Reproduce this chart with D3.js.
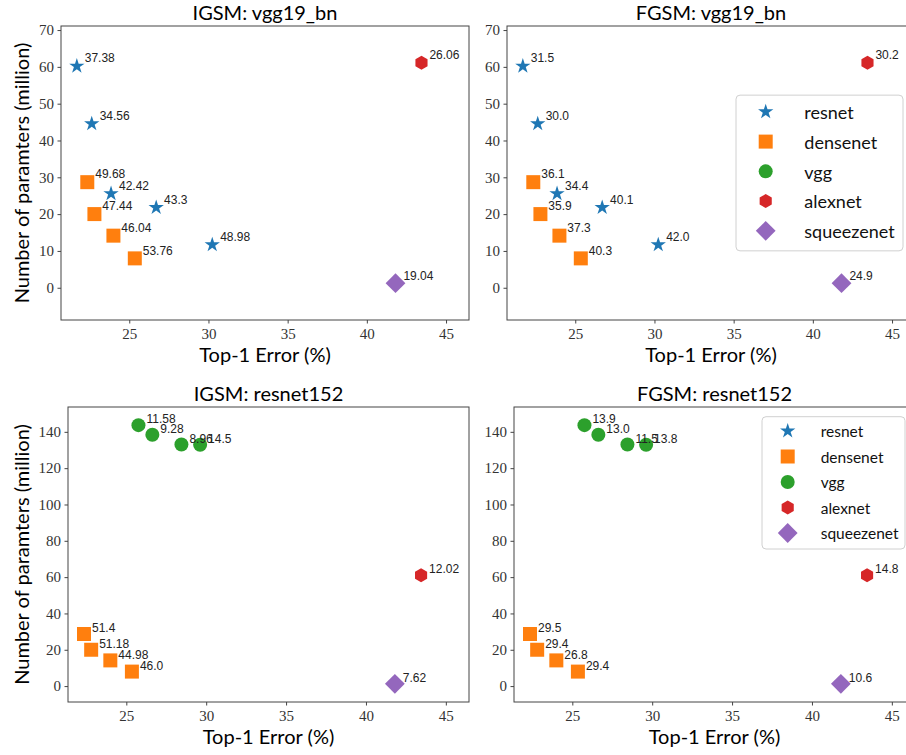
<!DOCTYPE html>
<html>
<head>
<meta charset="utf-8">
<script src="https://cdn.jsdelivr.net/npm/d3@7/dist/d3.min.js"></script>
<style>
  body { margin: 0; background: #fff; }
  svg { display: block; }
</style>
</head>
<body>
<div id="chart"></div>
<script>
// models, in the order the points are drawn
var models = ["resnet18", "resnet34", "resnet50", "resnet101", "resnet152",
    "densenet121", "densenet169", "densenet201", "densenet161",
    "vgg11_bn", "vgg13_bn", "vgg16_bn", "vgg19_bn",
    "alexnet", "squeezenet1_1"];
var family = ["resnet", "resnet", "resnet", "resnet", "resnet",
    "densenet", "densenet", "densenet", "densenet",
    "vgg", "vgg", "vgg", "vgg",
    "alexnet", "squeezenet"];
var top1Error = [30.24, 26.70, 23.85, 22.63, 21.69,
    25.35, 24.00, 22.80, 22.35,
    29.62, 28.45, 26.63, 25.76,
    43.45, 41.81];
var paramsM = [11.69, 21.80, 25.56, 44.55, 60.19,
    7.98, 14.15, 20.01, 28.68,
    132.87, 133.05, 138.37, 143.68,
    61.10, 1.24];

// point labels per panel (null = model not shown)
var igsmVgg19 = ["48.98", "43.3", "42.42", "34.56", "37.38",
    "53.76", "46.04", "47.44", "49.68",
    null, null, null, null, "26.06", "19.04"];
var fgsmVgg19 = ["42.0", "40.1", "34.4", "30.0", "31.5",
    "40.3", "37.3", "35.9", "36.1",
    null, null, null, null, "30.2", "24.9"];
var igsmRes152 = [null, null, null, null, null,
    "46.0", "44.98", "51.18", "51.4",
    "14.5", "8.96", "9.28", "11.58", "12.02", "7.62"];
var fgsmRes152 = [null, null, null, null, null,
    "29.4", "26.8", "29.4", "29.5",
    "13.8", "11.5", "13.0", "13.9", "14.8", "10.6"];

var families = ["resnet", "densenet", "vgg", "alexnet", "squeezenet"];
var xTicks = [25, 30, 35, 40, 45];
var yTicksTop = [0, 10, 20, 30, 40, 50, 60, 70];
var yTicksBottom = [0, 20, 40, 60, 80, 100, 120, 140];

var colors = {resnet: "#1f77b4", densenet: "#ff7f0e", vgg: "#2ca02c", alexnet: "#d62728", squeezenet: "#9467bd"};
var shapes = {resnet: "star", densenet: "square", vgg: "circle", alexnet: "hexagon", squeezenet: "diamond"};

var W = 906, H = 755;
var colStep = 446;
var rows = [
    {left: 61, top: 26, width: 408, height: 294, yTicks: yTicksTop},
    {left: 68, top: 407, width: 401, height: 295, yTicks: yTicksBottom}
];
var panels = [
    {title: "IGSM: vgg19_bn", labels: igsmVgg19, row: 0, col: 0, legend: null},
    {title: "FGSM: vgg19_bn", labels: fgsmVgg19, row: 0, col: 1, legend: "center"},
    {title: "IGSM: resnet152", labels: igsmRes152, row: 1, col: 0, legend: null},
    {title: "FGSM: resnet152", labels: fgsmRes152, row: 1, col: 1, legend: "upper"}
];

var sansFont = "Lato, 'Open Sans', sans-serif";
var serifFont = "'Liberation Serif', 'DejaVu Serif', serif";
var labelFont = "'Liberation Sans', Arial, sans-serif";
var markerSize = 14;

var svg = d3.select("#chart").append("svg")
    .attr("width", W)
    .attr("height", H);
svg.append("rect").attr("width", W).attr("height", H).attr("fill", "#fff");

function markerPath(type, s) {
    var r = s / 2;
    if (type === "star") { r = r * 1.15; return d3.symbol(d3.symbolStar, r * r / 0.8908130915292852)(); }
    if (type === "square" || type === "diamond") return d3.symbol(d3.symbolSquare, s * s)();
    if (type === "circle") return d3.symbol(d3.symbolCircle, Math.PI * r * r)();
    // hexagon, vertex on top
    var p = d3.path();
    for (var k = 0; k < 6; k++) {
        var a = -Math.PI / 2 + k * Math.PI / 3;
        if (k === 0) p.moveTo(r * Math.cos(a), r * Math.sin(a));
        else p.lineTo(r * Math.cos(a), r * Math.sin(a));
    }
    p.closePath();
    return p.toString();
}

function drawMarker(g, fam, cx, cy, s) {
    g.append("path")
        .attr("d", markerPath(shapes[fam], s))
        .attr("transform", "translate(" + cx + "," + cy + ")" + (shapes[fam] === "diamond" ? " rotate(45)" : ""))
        .attr("fill", colors[fam]);
}

panels.forEach(function (p) {
    var L = rows[p.row];
    var left = L.left + p.col * colStep, top = L.top;
    var idx = d3.range(models.length).filter(function (i) { return p.labels[i] !== null; });
    var xs = idx.map(function (i) { return top1Error[i]; });
    var ys = idx.map(function (i) { return paramsM[i]; });

    var x = d3.scaleLinear().domain([d3.min(xs) - 1, d3.max(xs) + 3]).range([0, L.width]);
    var y = d3.scaleLinear().domain([d3.min(ys) - 10, d3.max(ys) + 10]).range([L.height, 0]);

    var g = svg.append("g").attr("transform", "translate(" + left + "," + top + ")");

    var xa = g.append("g").attr("transform", "translate(0," + L.height + ")")
        .call(d3.axisBottom(x).tickValues(xTicks).tickSize(3.5).tickPadding(5).tickSizeOuter(0));
    var ya = g.append("g")
        .call(d3.axisLeft(y).tickValues(L.yTicks).tickSize(3.5).tickPadding(3.5).tickSizeOuter(0));
    [xa, ya].forEach(function (a) {
        a.select(".domain").remove();
        a.selectAll("line").attr("stroke", "#444");
        a.selectAll("text").style("font-family", serifFont).style("font-size", "15px").attr("fill", "#333");
    });

    g.append("rect")
        .attr("width", L.width).attr("height", L.height)
        .attr("fill", "none").attr("stroke", "#444").attr("stroke-width", 1);

    idx.forEach(function (i) {
        drawMarker(g, family[i], x(top1Error[i]), y(paramsM[i]), markerSize);
    });
    idx.forEach(function (i) {
        g.append("text")
            .attr("x", x(top1Error[i] + 0.5))
            .attr("y", y(paramsM[i] + 1))
            .style("font-family", labelFont).style("font-size", "12px")
            .attr("fill", "#222")
            .text(p.labels[i]);
    });

    g.append("text")
        .attr("x", L.width / 2).attr("y", -6)
        .attr("text-anchor", "middle")
        .style("font-family", sansFont).style("font-size", "20px")
        .text(p.title);
    g.append("text")
        .attr("x", L.width / 2).attr("y", L.height + 42)
        .attr("text-anchor", "middle")
        .style("font-family", sansFont).style("font-size", "20px")
        .text("Top-1 Error (%)");
    if (p.col === 0) {
        svg.append("text")
            .attr("transform", "translate(29," + (top + L.height / 2) + ") rotate(-90)")
            .attr("text-anchor", "middle")
            .style("font-family", sansFont).style("font-size", "20px")
            .text("Number of paramters (million)");
    }

    if (p.legend) {
        var lg = p.legend === "center"
            ? {w: 167, pt: 16.7, pb: 20, step: 29.75, mx: 29.7, tx: 68.3, fs: 18, pad: 12}
            : {w: 143, pt: 14.3, pb: 16, step: 25.5, mx: 25.7, tx: 58.7, fs: 15.5, pad: 10};
        var lh = lg.pt + lg.pb + lg.step * (families.length - 1);
        var lx = L.width - lg.pad - lg.w;
        var ly = p.legend === "center" ? (L.height - lh) / 2 : 9.7;
        var leg = g.append("g").attr("transform", "translate(" + lx + "," + ly + ")");
        leg.append("rect")
            .attr("width", lg.w).attr("height", lh).attr("rx", 4)
            .attr("fill", "#fff").attr("fill-opacity", 0.8)
            .attr("stroke", "#d0d0d0").attr("stroke-width", 1);
        families.forEach(function (f, k) {
            var cy = lg.pt + k * lg.step;
            drawMarker(leg, f, lg.mx, cy, markerSize);
            leg.append("text")
                .attr("x", lg.tx).attr("y", cy + lg.fs * 0.4)
                .style("font-family", sansFont).style("font-size", lg.fs + "px")
                .attr("fill", "#111")
                .text(f);
        });
    }
});
</script>
</body>
</html>
